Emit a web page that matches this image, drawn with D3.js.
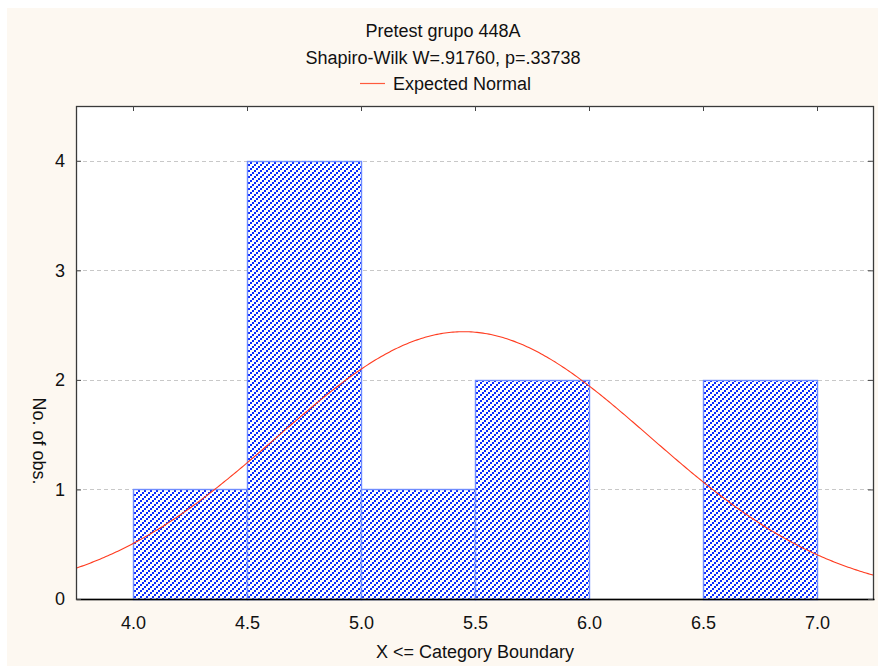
<!DOCTYPE html>
<html>
<head>
<meta charset="utf-8">
<script src="https://cdn.jsdelivr.net/npm/d3@7"></script>
<style>
  html, body { margin: 0; padding: 0; background: #ffffff; }
  svg { display: block; }
  text { font-family: "Liberation Sans", Arial, sans-serif; fill: #111; }
</style>
</head>
<body>
<svg id="chart" width="878" height="666"></svg>
<script>
// Histogram: category lower bounds and observed counts
const binStarts = [4.0, 4.5, 5.0, 5.5, 6.0, 6.5];
const binWidth = 0.5;
const counts = [1, 4, 1, 2, 0, 2];
const xTicks = [4.0, 4.5, 5.0, 5.5, 6.0, 6.5, 7.0];
const yTicks = [0, 1, 2, 3, 4];

// Fitted normal (expected counts per category)
const sampleN = 10;
const sampleMean = 5.45;
const sampleSD = 0.8175;

const titleLines = ["Pretest grupo 448A", "Shapiro-Wilk W=.91760, p=.33738"];
const legendLabel = "Expected Normal";

const W = 878, H = 666;
const FS = 18;
const plot = { left: 76, top: 106, right: 874, bottom: 599 };

const svg = d3.select("#chart");

// Cream page background with thin white margin at top/left
svg.append("rect").attr("x", 7).attr("y", 8).attr("width", W - 7).attr("height", H - 8)
  .attr("fill", "#fdf8f1");

const x = d3.scaleLinear().domain([3.75, 7.25]).range([plot.left, plot.right]);
const y = d3.scaleLinear().domain([0, 4.5]).range([plot.bottom, plot.top]);

// Hatch pattern: dotted "/" diagonals of blue squares
const defs = svg.append("defs");
const pat = defs.append("pattern").attr("id", "hatch")
  .attr("patternUnits", "userSpaceOnUse").attr("width", 6).attr("height", 6);
pat.append("rect").attr("width", 6).attr("height", 6).attr("fill", "#ffffff");
[[4, 0], [2, 2], [0, 4]].forEach(([px, py]) => {
  pat.append("rect").attr("x", px).attr("y", py).attr("width", 2).attr("height", 2)
    .attr("fill", "#0a2cff").attr("shape-rendering", "crispEdges");
});

// Plot area
svg.append("rect").attr("x", plot.left).attr("y", plot.top)
  .attr("width", plot.right - plot.left).attr("height", plot.bottom - plot.top)
  .attr("fill", "#ffffff");

// Dashed horizontal gridlines
svg.append("g").selectAll("line").data(yTicks.filter(d => d > 0)).join("line")
  .attr("x1", plot.left).attr("x2", plot.right)
  .attr("y1", d => Math.round(y(d)) + 0.5).attr("y2", d => Math.round(y(d)) + 0.5)
  .attr("stroke", "#c8c8c8").attr("stroke-dasharray", "4,3");

// Bars
const bins = binStarts.map((s, i) => ({ x0: s, x1: s + binWidth, n: counts[i] }))
  .filter(d => d.n > 0);
svg.append("g").selectAll("rect").data(bins).join("rect")
  .attr("x", d => Math.round(x(d.x0)) + 0.5)
  .attr("y", d => Math.round(y(d.n)) + 0.5)
  .attr("width", d => Math.round(x(d.x1)) - Math.round(x(d.x0)))
  .attr("height", d => Math.round(y(0)) - Math.round(y(d.n)))
  .attr("fill", "url(#hatch)")
  .attr("stroke", "#6f8cff").attr("stroke-width", 1.4);

// Expected normal curve
const pdf = v => sampleN * binWidth / (sampleSD * Math.sqrt(2 * Math.PI)) *
  Math.exp(-0.5 * Math.pow((v - sampleMean) / sampleSD, 2));
const xs = d3.range(0, 401).map(i => 3.75 + i * (3.5 / 400));
const clip = defs.append("clipPath").attr("id", "plotclip");
clip.append("rect").attr("x", plot.left).attr("y", plot.top)
  .attr("width", plot.right - plot.left).attr("height", plot.bottom - plot.top);
svg.append("path").datum(xs)
  .attr("clip-path", "url(#plotclip)")
  .attr("d", d3.line().x(d => x(d)).y(d => y(pdf(d))))
  .attr("fill", "none").attr("stroke", "#ff3b1f").attr("stroke-width", 1.1);

// Frame
svg.append("rect").attr("x", plot.left + 0.5).attr("y", plot.top + 0.5)
  .attr("width", plot.right - plot.left - 1).attr("height", plot.bottom - plot.top)
  .attr("fill", "none").attr("stroke", "#3a3a3a").attr("stroke-width", 1.3);

// Axes with inward ticks
const xAxisBottom = d3.axisBottom(x).tickValues(xTicks).tickSize(0).tickPadding(0)
  .tickFormat(d3.format(".1f"));
const gxb = svg.append("g").attr("transform", `translate(0,${plot.bottom})`).call(xAxisBottom);
gxb.select(".domain").attr("stroke", "#000").attr("stroke-width", 1.6);
gxb.selectAll(".tick text").attr("dy", 0).attr("y", 30)
  .attr("font-size", FS).attr("font-family", "Liberation Sans, Arial, sans-serif").attr("fill", "#111");
gxb.selectAll(".tick line").remove();

const xAxisTop = d3.axisTop(x).tickValues(xTicks).tickSize(-5).tickFormat("");
const gxt = svg.append("g").attr("transform", `translate(0,${plot.top})`).call(xAxisTop);
gxt.select(".domain").remove();
gxt.selectAll(".tick line").attr("stroke", "#444");

const yAxisLeft = d3.axisLeft(y).tickValues(yTicks).tickSize(-5).tickPadding(11)
  .tickFormat(d3.format("d"));
const gyl = svg.append("g").attr("transform", `translate(${plot.left},0)`).call(yAxisLeft);
gyl.select(".domain").remove();
gyl.selectAll(".tick line").attr("stroke", "#444");
gyl.selectAll(".tick text").attr("font-size", FS)
  .attr("font-family", "Liberation Sans, Arial, sans-serif").attr("fill", "#111");

const yAxisRight = d3.axisRight(y).tickValues(yTicks).tickSize(-5).tickFormat("");
const gyr = svg.append("g").attr("transform", `translate(${plot.right - 1},0)`).call(yAxisRight);
gyr.select(".domain").remove();
gyr.selectAll(".tick line").attr("stroke", "#444");

// Titles
svg.selectAll("text.title").data(titleLines).join("text").attr("class", "title")
  .attr("x", 443).attr("y", (d, i) => 37 + i * 27)
  .attr("text-anchor", "middle").attr("font-size", FS).text(d => d);

// Legend
svg.append("line").attr("x1", 360).attr("x2", 385).attr("y1", 83.5).attr("y2", 83.5)
  .attr("stroke", "#ff5a3c").attr("stroke-width", 1.2);
svg.append("text").attr("x", 393).attr("y", 90).attr("font-size", FS).text(legendLabel);

// Axis titles
svg.append("text").attr("x", 475).attr("y", 658).attr("text-anchor", "middle")
  .attr("font-size", FS).text("X <= Category Boundary");
svg.append("text").attr("transform", "translate(33,441) rotate(90)")
  .attr("text-anchor", "middle").attr("font-size", FS).text("No. of obs.");
</script>
</body>
</html>
